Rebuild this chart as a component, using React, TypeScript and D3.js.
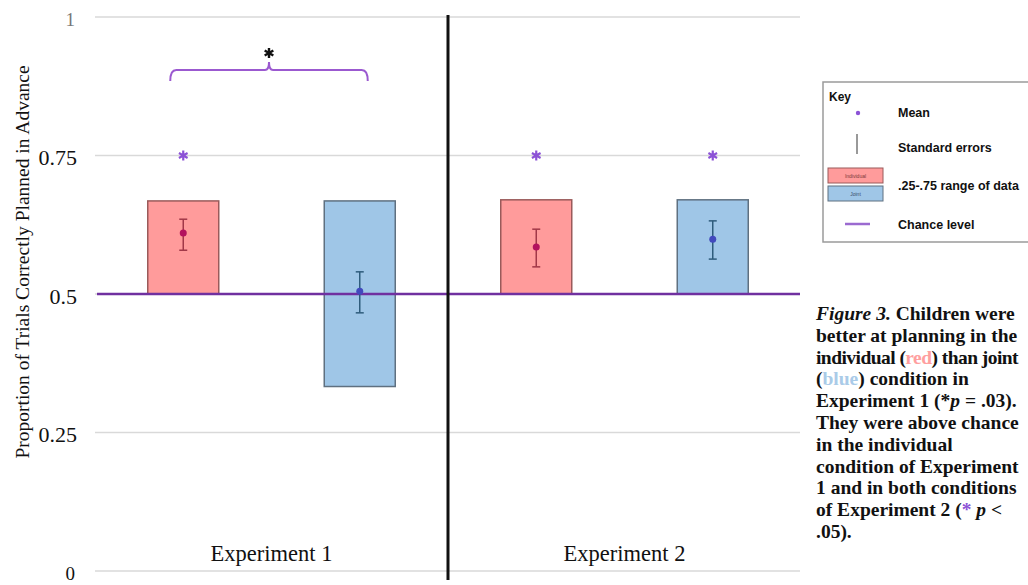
import React from "react";
import * as d3 from "d3";

const experiments = ["Experiment 1", "Experiment 2"];
const conditions = ["Individual", "Joint"];
// interquartile range (.25-.75) per experiment x condition
const q25 = [[0.5, 0.333], [0.5, 0.5]];
const q75 = [[0.668, 0.668], [0.67, 0.67]];
const means = [[0.61, 0.505], [0.585, 0.599]];
const seLow = [[0.579, 0.466], [0.549, 0.563]];
const seHigh = [[0.635, 0.54], [0.617, 0.632]];
const aboveChance = [[true, false], [true, true]];
const starLevel = 0.75;
const chance = 0.5;
const yTicks = [0, 0.25, 0.5, 0.75, 1];
const yTickLabels = ["0", "0.25", "0.5", "0.75", "1"];
const captionLines = [
  "Figure 3. Children were",
  "better at planning in the",
  "individual (red) than joint",
  "(blue) condition in",
  "Experiment 1 (*p = .03).",
  "They were above chance",
  "in the individual",
  "condition of Experiment",
  "1 and in both conditions",
  "of Experiment 2 (* p <",
  ".05).",
];

const W = 1028;
const H = 585;
const plotLeft = 95;
const plotRight = 800;
const y = d3.scaleLinear().domain([0, 1]).range([571, 17]);
const xExp = d3.scaleBand().domain(experiments).range([95, 801]).padding(0);
const xCond = d3.scalePoint().domain(conditions).range([0, xExp.bandwidth()]).padding(0.5);
const barW = 71;

const fills = ["#ff9b9b", "#9fc6e7"];
const strokes = ["#9a5a5a", "#5f7080"];
const dotColors = ["#b3125e", "#4249bd"];
const errColors = ["#a13848", "#2f5c7c"];
const purple = "#7030a0";
const starPurple = "#8c52d6";
const serif = "'Liberation Serif', 'Times New Roman', serif";
const sans = "'Liberation Sans', Arial, sans-serif";

const asterisk = d3.symbol().type(d3.symbolAsterisk);

function Caption() {
  const x0 = 816;
  const y0 = 320;
  const dy = 21.8;
  return (
    <text fontFamily={serif} fontWeight="bold" fontSize={19.5} fill="#111">
      {captionLines.map((line, i) => {
        const ty = y0 + i * dy;
        if (i === 0) {
          return (
            <tspan key={i} x={x0} y={ty}>
              <tspan fontStyle="italic">Figure 3.</tspan> Children were
            </tspan>
          );
        }
        if (i === 2) {
          return (
            <tspan key={i} x={x0} y={ty} letterSpacing={-0.55}>
              individual (<tspan fill="#ff9f9f">red</tspan>) than joint
            </tspan>
          );
        }
        if (i === 3) {
          return (
            <tspan key={i} x={x0} y={ty}>
              (<tspan fill="#aacbe8">blue</tspan>) condition in
            </tspan>
          );
        }
        if (i === 4) {
          return (
            <tspan key={i} x={x0} y={ty}>
              Experiment 1 (*<tspan fontStyle="italic">p</tspan> = .03).
            </tspan>
          );
        }
        if (i === 9) {
          return (
            <tspan key={i} x={x0} y={ty}>
              of Experiment 2 (<tspan fill={starPurple}>*</tspan> <tspan fontStyle="italic">p</tspan> &lt;
            </tspan>
          );
        }
        return (
          <tspan key={i} x={x0} y={ty}>
            {line}
          </tspan>
        );
      })}
    </text>
  );
}

function Legend() {
  const lx = 823;
  return (
    <g fontFamily={sans} fontWeight="bold" fontSize={12.5} fill="#111">
      <rect x={lx} y={82} width={220} height={160} fill="#fff" stroke="#9a9a9a" strokeWidth={1.5} />
      <text x={829} y={101} fontSize={12}>Key</text>
      <circle cx={858} cy={113} r={2.2} fill={starPurple} />
      <text x={898} y={117}>Mean</text>
      <line x1={857} x2={857} y1={134} y2={154} stroke="#777" strokeWidth={1.5} />
      <text x={898} y={152}>Standard errors</text>
      <rect x={828} y={168} width={55} height={15} fill={fills[0]} stroke={strokes[0]} />
      <text x={855.5} y={178} fontSize={5} fontWeight="normal" textAnchor="middle" fill="#7a3a3a">Individual</text>
      <rect x={828} y={186} width={55} height={15} fill={fills[1]} stroke={strokes[1]} />
      <text x={855.5} y={196} fontSize={5} fontWeight="normal" textAnchor="middle" fill="#3a4a6a">Joint</text>
      <text x={898} y={190}>.25-.75 range of data</text>
      <line x1={845} x2={870} y1={224} y2={224} stroke="#9b6ad0" strokeWidth={2.5} />
      <text x={898} y={229}>Chance level</text>
    </g>
  );
}

export default function App() {
  const cxOf = (ei: number, ci: number) => (xExp(experiments[ei]) as number) + (xCond(conditions[ci]) as number);

  const b0 = cxOf(0, 0);
  const b1 = cxOf(0, 1);
  const legL = b0 - 13;
  const legR = b1 + 8;
  const mid = (legL + legR) / 2;
  const by = 70;
  const bracketPath = `M${legL},81 Q${legL},${by} ${legL + 6},${by} L${mid - 4},${by} Q${mid},${by} ${mid},${by - 8} Q${mid},${by} ${mid + 4},${by} L${legR - 6},${by} Q${legR},${by} ${legR},81`;

  return (
    <svg width={W} height={H} style={{ position: "absolute", left: 0, top: 0, background: "#fff" }}>
      {/* gridlines */}
      {yTicks.map((t) => (
        <line key={t} x1={plotLeft} x2={plotRight} y1={y(t)} y2={y(t)} stroke="#d9d9d9" strokeWidth={1.5} />
      ))}
      {/* y tick labels */}
      {yTicks.map((t, i) => (
        <text
          key={"l" + t}
          x={t === 0 || t === 1 ? 75 : 77}
          y={y(t) + 2}
          dy="0.35em"
          textAnchor="end"
          fontFamily={serif}
          fontSize={t === 0 || t === 1 ? 19 : 22}
          fill={t === 1 ? "#777" : "#111"}
        >
          {yTickLabels[i]}
        </text>
      ))}
      {/* y axis title */}
      <text
        transform={`translate(22,262) rotate(-90)`}
        textAnchor="middle"
        dy="0.35em"
        fontFamily={serif}
        fontSize={19.5}
        fill="#111"
      >
        Proportion of Trials Correctly Planned in Advance
      </text>

      {/* boxes */}
      {experiments.map((e, ei) =>
        conditions.map((c, ci) => (
          <rect
            key={e + c}
            x={cxOf(ei, ci) - barW / 2}
            y={y(q75[ei][ci])}
            width={barW}
            height={y(q25[ei][ci]) - y(q75[ei][ci])}
            fill={fills[ci]}
            stroke={strokes[ci]}
            strokeWidth={1.5}
          />
        ))
      )}

      {/* chance line */}
      <line x1={97} x2={plotRight} y1={y(chance)} y2={y(chance)} stroke={purple} strokeWidth={2.5} />

      {/* error bars and means */}
      {experiments.map((e, ei) =>
        conditions.map((c, ci) => {
          const cx = cxOf(ei, ci);
          return (
            <g key={"m" + e + c}>
              <line x1={cx} x2={cx} y1={y(seLow[ei][ci])} y2={y(seHigh[ei][ci])} stroke={errColors[ci]} strokeWidth={1.5} />
              <line x1={cx - 4} x2={cx + 4} y1={y(seLow[ei][ci])} y2={y(seLow[ei][ci])} stroke={errColors[ci]} strokeWidth={1.5} />
              <line x1={cx - 4} x2={cx + 4} y1={y(seHigh[ei][ci])} y2={y(seHigh[ei][ci])} stroke={errColors[ci]} strokeWidth={1.5} />
              <circle cx={cx} cy={y(means[ei][ci])} r={3.5} fill={dotColors[ci]} />
              {aboveChance[ei][ci] && (
                <path
                  d={asterisk.size(70)() as string}
                  transform={`translate(${cx},${y(starLevel)})`}
                  fill="none"
                  stroke={starPurple}
                  strokeWidth={2.2}
                />
              )}
            </g>
          );
        })
      )}

      {/* significance bracket */}
      <path d={bracketPath} fill="none" stroke="#9b59d0" strokeWidth={2} />
      <path d={asterisk.size(70)() as string} transform={`translate(${mid},53)`} fill="none" stroke="#111" strokeWidth={2.4} />

      {/* divider */}
      <line x1={448} x2={448} y1={15} y2={580} stroke="#111" strokeWidth={3} />

      {/* experiment labels */}
      {experiments.map((e) => (
        <text
          key={"x" + e}
          x={(xExp(e) as number) + xExp.bandwidth() / 2}
          y={561}
          textAnchor="middle"
          fontFamily={serif}
          fontSize={22.5}
          fill="#111"
        >
          {e}
        </text>
      ))}

      <Legend />
      <Caption />
    </svg>
  );
}
